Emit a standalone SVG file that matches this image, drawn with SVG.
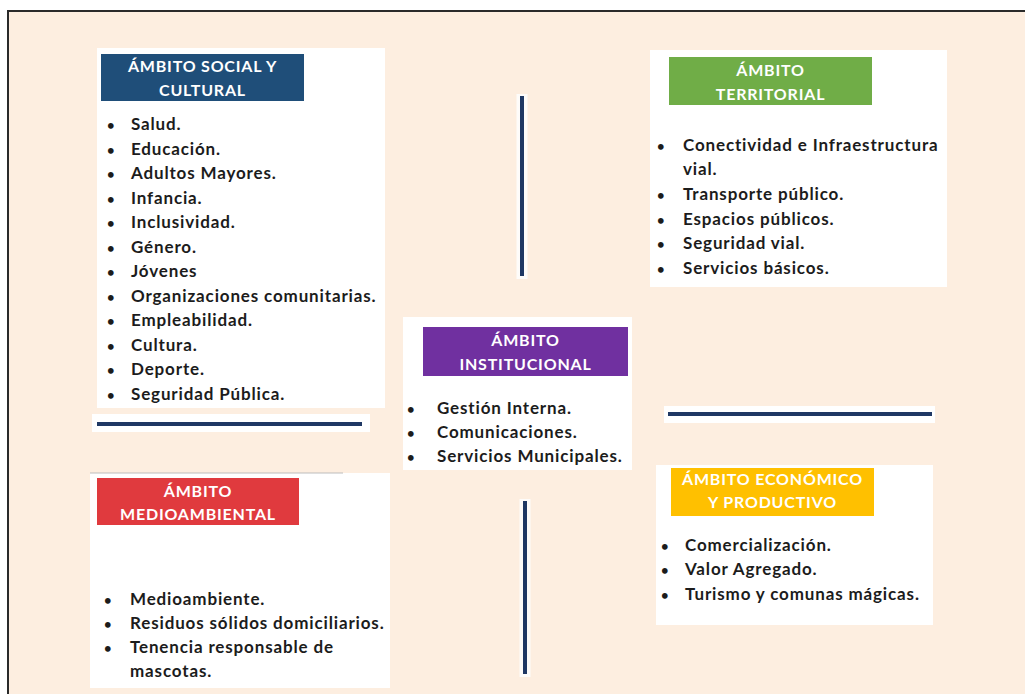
<svg xmlns="http://www.w3.org/2000/svg" width="1025" height="694" viewBox="0 0 1025 694">
<style>
.box{fill:#ffffff}
.hdr{font-family:Lato,"Liberation Sans",sans-serif;font-weight:700;font-size:16px;letter-spacing:0.8px;fill:#ffffff;text-anchor:middle}
.item{font-family:Lato,"Liberation Sans",sans-serif;font-weight:700;font-size:17px;letter-spacing:0.85px;fill:#1c1c1c}
.bul{font-size:13px;letter-spacing:0}
.line{stroke:#1F3864;stroke-width:4;stroke-linecap:butt}
.glow{stroke:#ffffff;stroke-width:11;opacity:0.85}
</style>
<rect x="0" y="0" width="1025" height="694" fill="#ffffff"/>
<rect x="8" y="11" width="1030" height="700" fill="#FDEEE0" stroke="#2a2a2a" stroke-width="2"/>

<g id="connectors">
  <rect x="92" y="414" width="278" height="18" fill="#ffffff"/>
  <line class="line" x1="97" y1="424" x2="362" y2="424"/>
  <rect x="664" y="406" width="271" height="17" fill="#ffffff"/>
  <line class="line" x1="668" y1="414" x2="932" y2="414"/>
  <line class="glow" x1="522" y1="94" x2="522" y2="279"/>
  <line class="line" x1="522" y1="96" x2="522" y2="276"/>
  <line class="glow" x1="525" y1="499" x2="525" y2="677"/>
  <line class="line" x1="525" y1="501" x2="525" y2="674"/>
</g>

<g id="social">
  <rect class="box" x="97" y="48" width="288" height="360"/>
  <rect x="101" y="54" width="203" height="47" fill="#1F4E79"/>
  <text class="hdr" x="202.5" y="72">ÁMBITO SOCIAL Y</text>
  <text class="hdr" x="202.5" y="95.5">CULTURAL</text>
  <text class="item" y="130"><tspan class="bul" x="107">•</tspan><tspan x="131">Salud.</tspan></text>
  <text class="item" y="154.5"><tspan class="bul" x="107">•</tspan><tspan x="131">Educación.</tspan></text>
  <text class="item" y="179"><tspan class="bul" x="107">•</tspan><tspan x="131">Adultos Mayores.</tspan></text>
  <text class="item" y="203.5"><tspan class="bul" x="107">•</tspan><tspan x="131">Infancia.</tspan></text>
  <text class="item" y="228"><tspan class="bul" x="107">•</tspan><tspan x="131">Inclusividad.</tspan></text>
  <text class="item" y="252.5"><tspan class="bul" x="107">•</tspan><tspan x="131">Género.</tspan></text>
  <text class="item" y="277"><tspan class="bul" x="107">•</tspan><tspan x="131">Jóvenes</tspan></text>
  <text class="item" y="301.5"><tspan class="bul" x="107">•</tspan><tspan x="131">Organizaciones comunitarias.</tspan></text>
  <text class="item" y="326"><tspan class="bul" x="107">•</tspan><tspan x="131">Empleabilidad.</tspan></text>
  <text class="item" y="350.5"><tspan class="bul" x="107">•</tspan><tspan x="131">Cultura.</tspan></text>
  <text class="item" y="375"><tspan class="bul" x="107">•</tspan><tspan x="131">Deporte.</tspan></text>
  <text class="item" y="399.5"><tspan class="bul" x="107">•</tspan><tspan x="131">Seguridad Pública.</tspan></text>
</g>

<g id="territorial">
  <rect class="box" x="650" y="50" width="297" height="237"/>
  <rect x="669" y="57" width="203" height="48" fill="#70AD47"/>
  <text class="hdr" x="770.5" y="76">ÁMBITO</text>
  <text class="hdr" x="770.5" y="100">TERRITORIAL</text>
  <text class="item" y="151"><tspan class="bul" x="657">•</tspan><tspan x="683">Conectividad e Infraestructura</tspan></text>
  <text class="item" x="683" y="175">vial.</text>
  <text class="item" y="200"><tspan class="bul" x="657">•</tspan><tspan x="683">Transporte público.</tspan></text>
  <text class="item" y="224.5"><tspan class="bul" x="657">•</tspan><tspan x="683">Espacios públicos.</tspan></text>
  <text class="item" y="249"><tspan class="bul" x="657">•</tspan><tspan x="683">Seguridad vial.</tspan></text>
  <text class="item" y="273.5"><tspan class="bul" x="657">•</tspan><tspan x="683">Servicios básicos.</tspan></text>
</g>

<g id="institucional">
  <rect class="box" x="403" y="317" width="229" height="153"/>
  <rect x="423" y="327" width="205" height="49" fill="#7030A0"/>
  <text class="hdr" x="525.5" y="346">ÁMBITO</text>
  <text class="hdr" x="525.5" y="370">INSTITUCIONAL</text>
  <text class="item" y="413.5"><tspan class="bul" x="407">•</tspan><tspan x="437">Gestión Interna.</tspan></text>
  <text class="item" y="438"><tspan class="bul" x="407">•</tspan><tspan x="437">Comunicaciones.</tspan></text>
  <text class="item" y="462"><tspan class="bul" x="407">•</tspan><tspan x="437">Servicios Municipales.</tspan></text>
</g>

<g id="economico">
  <rect class="box" x="656" y="465" width="277" height="160"/>
  <rect x="671" y="468" width="203" height="48" fill="#FFC000"/>
  <text class="hdr" x="772.5" y="485">ÁMBITO ECONÓMICO</text>
  <text class="hdr" x="772.5" y="508">Y PRODUCTIVO</text>
  <text class="item" y="550.5"><tspan class="bul" x="661">•</tspan><tspan x="685">Comercialización.</tspan></text>
  <text class="item" y="575"><tspan class="bul" x="661">•</tspan><tspan x="685">Valor Agregado.</tspan></text>
  <text class="item" y="599.5"><tspan class="bul" x="661">•</tspan><tspan x="685">Turismo y comunas mágicas.</tspan></text>
</g>

<g id="medioambiental">
  <rect class="box" x="90" y="473" width="300" height="215"/>
  <line x1="90" y1="473" x2="343" y2="473" stroke="#bdbdbd" stroke-width="1"/>
  <rect x="97" y="478" width="202" height="47" fill="#E03A3E"/>
  <text class="hdr" x="198" y="497">ÁMBITO</text>
  <text class="hdr" x="198" y="520">MEDIOAMBIENTAL</text>
  <text class="item" y="605"><tspan class="bul" x="104">•</tspan><tspan x="130">Medioambiente.</tspan></text>
  <text class="item" y="629"><tspan class="bul" x="104">•</tspan><tspan x="130">Residuos sólidos domiciliarios.</tspan></text>
  <text class="item" y="653"><tspan class="bul" x="104">•</tspan><tspan x="130">Tenencia responsable de</tspan></text>
  <text class="item" x="130" y="677">mascotas.</text>
</g>
</svg>
